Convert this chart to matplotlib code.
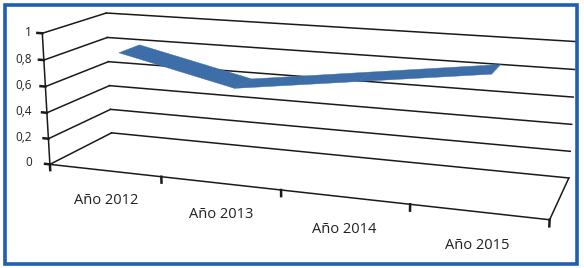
import numpy as np
import matplotlib
matplotlib.use('Agg')
import matplotlib.pyplot as plt
from matplotlib.patches import Rectangle
from mpl_toolkits.mplot3d.art3d import Poly3DCollection

# datos
years = ['Año 2012', 'Año 2013', 'Año 2014', 'Año 2015']
values = [0.83, 0.63, 0.75, 0.87]
z_ticks = [0, 0.2, 0.4, 0.6, 0.8, 1]
z_labels = ['0', '0,2', '0,4', '0,6', '0,8', '1']

W, H = 584, 268
fig = plt.figure(figsize=(5.84, 2.68), dpi=100)

# ejes 3D con perspectiva parecida a la de Excel
L, px0, py0 = 523.7, 39.8, -102.7
ax = fig.add_axes([px0 / W, py0 / H, L / W, L / H], projection='3d')
ax.set_box_aspect((4, 1.0, 1.1))
ax.view_init(13.87, -70.33, 0.12)
ax.set_proj_type('persp', focal_length=0.4108)
ax.set_axis_off()
ax.computed_zorder = False
ax.set_xlim3d(0.076, 4.011)
ax.set_ylim3d(0.008, 0.977)
ax.set_zlim3d(0.027, 1.033)

line_kw = dict(color='#1a1a1a', lw=1.1, clip_on=False)
tick_kw = dict(color='#1a1a1a', lw=1.8, clip_on=False, zorder=4)
n = len(years)

# pared del fondo y pared lateral
for z in z_ticks:
    ax.plot([0, n], [1, 1], [z, z], zorder=1, **line_kw)
    ax.plot([0, 0], [0, 1], [z, z], zorder=1, **line_kw)

# cinta de la serie
xs = np.arange(n) + 0.5
d0, d1 = 0.305, 0.65
verts = []
for i in range(n - 1):
    verts.append([(xs[i], d0, values[i]), (xs[i + 1], d0, values[i + 1]),
                  (xs[i + 1], d1, values[i + 1]), (xs[i], d1, values[i])])
ribbon = Poly3DCollection(verts, facecolor='#3d6ea8', edgecolor='#3d6ea8',
                          linewidth=0.3, zorder=3)
ribbon.set_clip_on(False)
ax.add_collection3d(ribbon)

# ejes
ax.plot([0, n], [0, 0], [0, 0], zorder=4, **line_kw)
ax.plot([n, n], [0, 1], [0, 0], zorder=4, **line_kw)
ax.plot([0, 0], [0, 0], [0, 1], zorder=4, **line_kw)
for z in z_ticks:
    ax.plot([-0.045, 0], [0, 0], [z, z], **tick_kw)
for k in range(n + 1):
    ax.plot([k, k], [0, 0], [0, -0.045], **tick_kw)

ax.set_xlim3d(0.076, 4.011)
ax.set_ylim3d(0.008, 0.977)
ax.set_zlim3d(0.027, 1.033)

# etiquetas: se proyectan con la matriz de la vista 3D y se ponen como texto 2D
M = ax.get_proj()


def proj(x, y, z):
    v = M @ np.array([x, y, z, 1.0])
    return v[0] / v[3], v[1] / v[3]


text_kw = dict(family='Open Sans', color='#231f20', transform=ax.transData)
for z, lab in zip(z_ticks, z_labels):
    u, v = proj(-(0.17 - 0.071 * z), 0, z)
    ax.text2D(u, v, lab, ha='right', va='center', fontsize=8.5, **text_kw)
for x, lab in zip(xs, years):
    u, v = proj(x, 0, -0.235)
    ax.text2D(u, v, lab, ha='center', va='center', fontsize=10.5, **text_kw)

# marco azul
fig.add_artist(Rectangle((5 / W, 4.5 / H), 571.5 / W, 258.5 / H, transform=fig.transFigure,
                         fill=False, edgecolor='#1f5eb0', lw=2.6))

fig.savefig('out.png', dpi=100)
